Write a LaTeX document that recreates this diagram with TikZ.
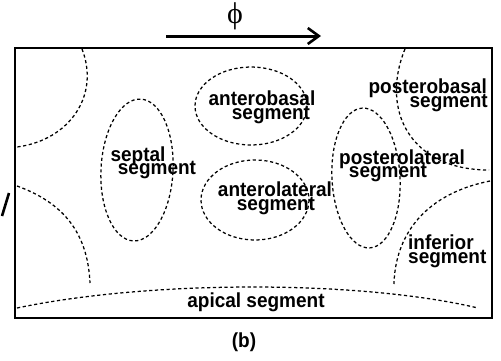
\documentclass[tikz,border=0pt]{standalone}
\usepackage{fontspec}
\usepackage{graphicx}
\setmainfont{Liberation Sans}
\newfontfamily\phifont{Liberation Serif}
\newcommand\tallt[1]{\scalebox{1}[1.07]{#1}}
\usetikzlibrary{arrows.meta}
\begin{document}
\begin{tikzpicture}[x=1pt,y=-1pt,
  seg/.style={draw, line width=1.25pt, dash pattern=on 3.2pt off 2.6pt},
  lbl/.style={font=\bfseries\fontsize{19}{19}\selectfont, inner sep=0pt, anchor=base},
  frame/.style={draw, line width=2.6pt}]
\useasboundingbox (0,0) rectangle (501,360);
% frame
\draw[frame] (15,48) rectangle (492,318);
% direction arrow
\coordinate (a0) at (166,36);
\coordinate (a1) at (321,36);
\draw[line width=3pt, -{Straight Barb[length=11pt,width=16pt,line width=2.6pt]}] (a0) -- (a1);
\node[inner sep=0pt, font=\phifont\fontsize{30}{30}\selectfont] (phi) at (235,16) {ϕ};
% edge fragment at far left
\draw[line width=2.6pt] (2,216) -- (9,193);
% segment boundaries
\draw[seg] (82,49) .. controls (100,95) and (70,140) .. (17,147);
\draw[seg] (17,186) .. controls (70,205) and (88,240) .. (90,283);
\draw[seg] (405,49) .. controls (380,110) and (410,170) .. (489,170);
\draw[seg] (490,181) .. controls (420,195) and (395,240) .. (394,284);
\draw[seg] (17,308) .. controls (150,280) and (360,280) .. (478,308);
\draw[seg, rotate around={-3:(137,170)}] (137,170) ellipse [x radius=36, y radius=71];
\draw[seg] (251,106) ellipse [x radius=56, y radius=39];
\draw[seg] (255,200) ellipse [x radius=54, y radius=40];
\draw[seg, rotate around={3:(366,178)}] (366,178) ellipse [x radius=34, y radius=70];
% labels
\node[lbl] (ab1) at (262,105.5) {\tallt{anterobasal}};
\node[lbl] (ab2) at (271,119) {\tallt{segment}};
\node[lbl, anchor=base east] (pb1) at (487,93.5) {\tallt{posterobasal}};
\node[lbl, anchor=base east] (pb2) at (488,107.5) {\tallt{segment}};
\node[lbl] (sp1) at (138,161.5) {\tallt{septal}};
\node[lbl] (sp2) at (157,174) {\tallt{segment}};
\node[lbl] (pl1) at (402,164.5) {\tallt{posterolateral}};
\node[lbl] (pl2) at (388,177.5) {\tallt{segment}};
\node[lbl] (al1) at (275,196.5) {\tallt{anterolateral}};
\node[lbl] (al2) at (276,210) {\tallt{segment}};
\node[lbl, anchor=base west] (inf1) at (408,249.5) {\tallt{inferior}};
\node[lbl, anchor=base west] (inf2) at (408,263) {\tallt{segment}};
\node[lbl] (ap) at (256,307) {\tallt{apical segment}};
\node[lbl] (b) at (244,347) {\tallt{(b)}};
\end{tikzpicture}
\end{document}
